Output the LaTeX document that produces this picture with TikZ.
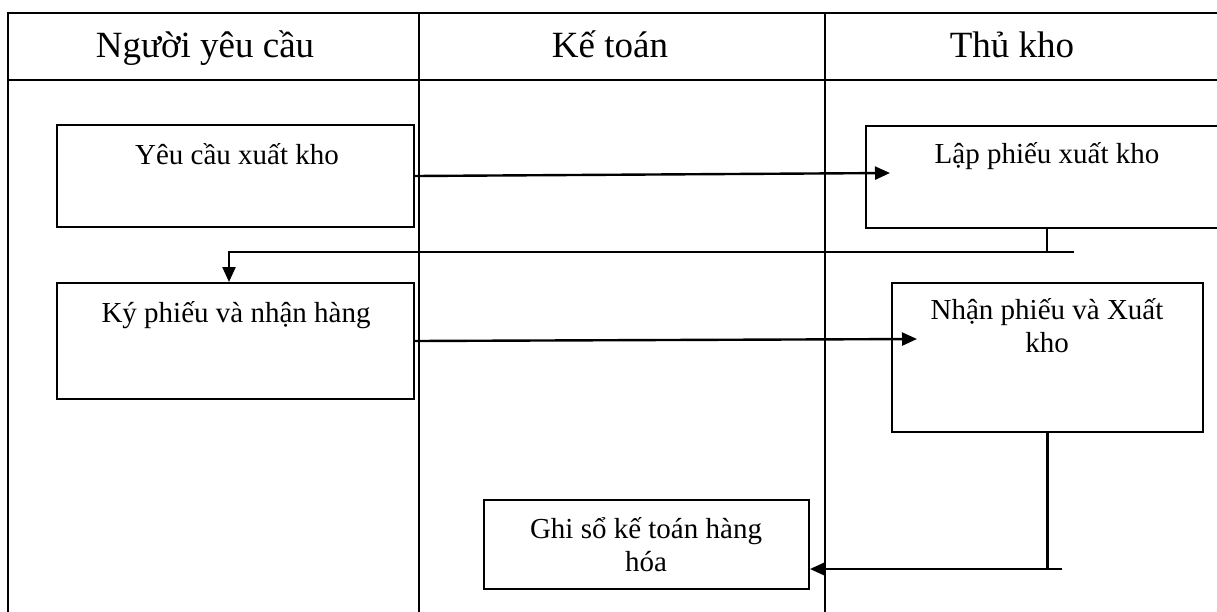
\documentclass[tikz,border=0pt]{standalone}
\usepackage{fontspec}
\setmainfont{Liberation Serif}
\usetikzlibrary{arrows.meta,calc}
\begin{document}
\begin{tikzpicture}[x=1pt,y=-1pt,
  lane/.style={line width=2.3pt},
  stepbox/.style={draw,line width=2pt,rectangle,inner sep=0pt},
  steptext/.style={anchor=base,font=\fontsize{29}{33}\selectfont,align=center,inner sep=0pt},
  headtext/.style={anchor=base,font=\fontsize{37}{44}\selectfont,inner sep=0pt},
  flow/.style={line width=2.4pt,-{Triangle[length=15pt,width=13pt]}},
  link/.style={line width=2.2pt}]
\useasboundingbox (0,0) rectangle (1217,611);
\begin{scope}
\clip (0,0) rectangle (1217,611);
% swimlane grid
\draw[lane] (8,640) -- (8,13) -- (1240,13);
\draw[lane] (8,80) -- (1240,80);
\draw[lane] (419,13) -- (419,640);
\draw[lane] (825,13) -- (825,640);
% lane headings
\node[headtext] (h1) at (205,57) {Người yêu cầu};
\node[headtext] (h2) at (610,57) {Kế toán};
\node[headtext] (h3) at (1012,57) {Thủ kho};
% process steps
\node[stepbox, minimum width=357pt, minimum height=102pt] (req) at (235.5,176) {};
\node[stepbox, minimum width=362pt, minimum height=102pt] (lap) at (1047,177) {};
\node[stepbox, minimum width=357pt, minimum height=116pt] (ky) at (235.5,341) {};
\node[stepbox, minimum width=311pt, minimum height=149pt] (nhan) at (1047.5,357.5) {};
\node[stepbox, minimum width=325pt, minimum height=89pt] (ghi) at (646.5,544.5) {};
\node[steptext] (reqt) at (237,164) {Yêu cầu xuất kho};
\node[steptext] (lapt) at (1047,163) {Lập phiếu xuất kho};
\node[steptext] (kyt) at (236,322) {Ký phiếu và nhận hàng};
\node[steptext] (nhant) at (1047,352) {Nhận phiếu và Xuất\\kho};
\node[steptext] (ghit) at (646,571) {Ghi sổ kế toán hàng\\hóa};
% connectors
\coordinate (lapin) at (890,173);
\coordinate (nhanin) at (917,339);
\coordinate (j1) at (1074,252);
\coordinate (j1l) at (229,252);
\coordinate (j2) at (1062,569);
\draw[flow] (req.east) -- (lapin);
\draw[link] (lap.south) -- (lap.south |- j1);
\draw[flow] (j1) -- (j1l) -- (j1l |- ky.north);
\draw[flow] (ky.east) -- (nhanin);
\draw[link] (nhan.south) -- (nhan.south |- j2);
\draw[flow] (j2) -- (ghi.east |- j2);
\end{scope}
\end{tikzpicture}
\end{document}
